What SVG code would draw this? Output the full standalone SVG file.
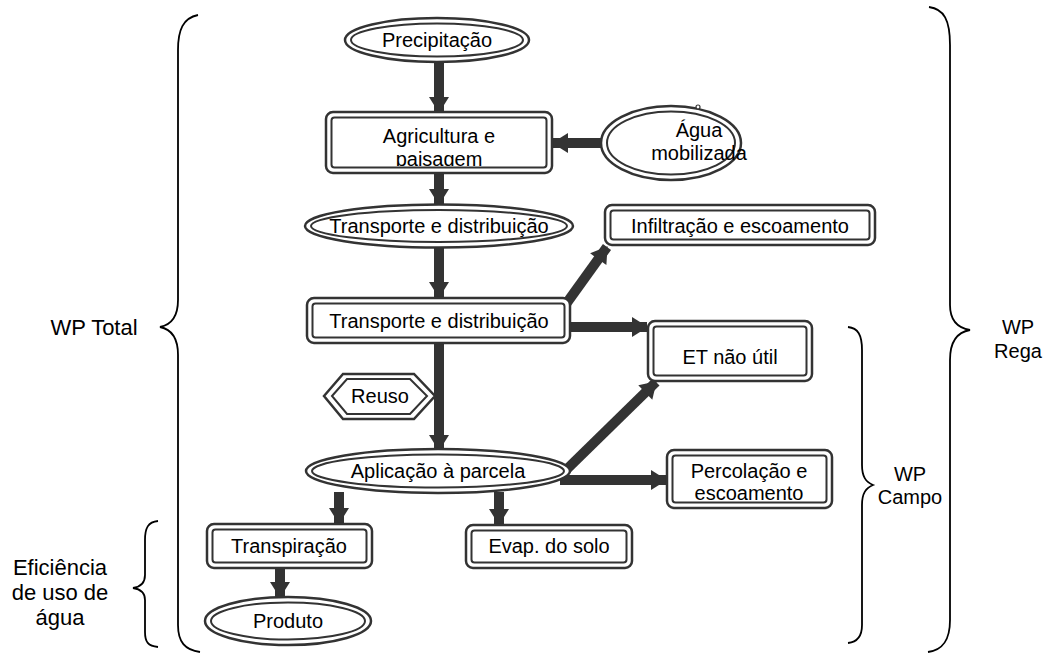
<svg xmlns="http://www.w3.org/2000/svg" width="1050" height="655" viewBox="0 0 1050 655">
<style>
.o{fill:#fff;stroke:#333;stroke-width:2.5}
.i{fill:none;stroke:#333;stroke-width:2}
.t{font-family:"Liberation Sans",Arial,sans-serif;font-size:20px;fill:#000;text-anchor:middle}
.s{font-size:22px}
.a{fill:none;stroke:#333;stroke-width:10;marker-end:url(#ah)}
.b{fill:none;stroke:#000;stroke-width:1.8}
</style>
<defs>
<marker id="ah" markerUnits="userSpaceOnUse" markerWidth="22" markerHeight="22" viewBox="0 0 16 22" refX="15" refY="11" orient="auto">
<path d="M0,1 L16,11 L0,21 Z" fill="#333"/>
</marker>
<clipPath id="cAgri"><rect x="332" y="118" width="214" height="48"/></clipPath>
</defs>
<rect width="1050" height="655" fill="#fff"/>

<g id="connectors">
<path class="a" d="M439,62 V112"/>
<path class="a" d="M439,173 V204"/>
<path class="a" d="M439,248 V297"/>
<path class="a" d="M439,343 V450"/>
<path class="a" d="M602,143 H553"/>
<path class="a" d="M566,304 L607,247"/>
<path class="a" d="M570,327 H647"/>
<path class="a" d="M565,471 L656,382"/>
<path class="a" d="M560,480 H666"/>
<path class="a" d="M339,492 V523"/>
<path class="a" d="M499,492 V524"/>
<path class="a" d="M280,568 V597"/>
</g>

<g id="precipitacao">
<ellipse class="o" cx="437" cy="40" rx="92" ry="22"/>
<ellipse class="i" cx="437" cy="40" rx="86" ry="16.5"/>
<text class="t" x="437" y="47">Precipitação</text>
</g>

<g id="agricultura">
<rect class="o" x="326" y="112" width="226" height="61" rx="7"/>
<rect class="i" x="331.5" y="117.5" width="215" height="50" rx="3"/>
<g clip-path="url(#cAgri)">
<text class="t" x="439" y="143">Agricultura e</text>
<text class="t" x="439" y="165.5">paisagem</text>
</g>
</g>

<g id="agua">
<ellipse class="o" cx="671" cy="143" rx="70" ry="37"/>
<ellipse class="i" cx="671" cy="143" rx="64" ry="31.5"/>
<circle cx="698" cy="107" r="2" fill="#fff" stroke="#333" stroke-width="1.2"/>
<text class="t" x="699" y="137">Água</text>
<text class="t" x="699" y="160">mobilizada</text>
</g>

<g id="transporte1">
<ellipse class="o" cx="439" cy="226" rx="134" ry="21.5"/>
<ellipse class="i" cx="439" cy="226" rx="128" ry="16"/>
<text class="t" x="439" y="233">Transporte e distribuição</text>
</g>

<g id="infiltracao">
<rect class="o" x="605" y="205" width="270" height="40" rx="7"/>
<rect class="i" x="610.5" y="210.5" width="259" height="29" rx="3"/>
<text class="t" x="740" y="233">Infiltração e escoamento</text>
</g>

<g id="transporte2">
<rect class="o" x="307" y="298" width="263" height="45" rx="7"/>
<rect class="i" x="312.5" y="303.5" width="252" height="34" rx="3"/>
<text class="t" x="439" y="328">Transporte e distribuição</text>
</g>

<g id="et">
<rect class="o" x="648" y="321" width="164" height="60" rx="7"/>
<rect class="i" x="653.5" y="326.5" width="153" height="49" rx="3"/>
<text class="t" x="730" y="364">ET não útil</text>
</g>

<g id="reuso">
<polygon class="o" points="324,396 343,374 414,374 435,396 414,419 343,419"/>
<polygon class="i" points="332,396 347,379 410,379 427,396 410,414 347,414"/>
<text class="t" x="380" y="403">Reuso</text>
</g>

<g id="aplicacao">
<ellipse class="o" cx="438" cy="471" rx="132" ry="22"/>
<ellipse class="i" cx="438" cy="471" rx="126" ry="16.5"/>
<text class="t" x="438" y="478">Aplicação à parcela</text>
</g>

<g id="percolacao">
<rect class="o" x="667" y="450" width="165" height="58" rx="7"/>
<rect class="i" x="672.5" y="455.5" width="154" height="47" rx="3"/>
<text class="t" x="749" y="478">Percolação e</text>
<text class="t" x="749" y="500">escoamento</text>
</g>

<g id="transpiracao">
<rect class="o" x="207" y="524" width="165" height="44" rx="7"/>
<rect class="i" x="212.5" y="529.5" width="154" height="33" rx="3"/>
<text class="t" x="289" y="553">Transpiração</text>
</g>

<g id="evap">
<rect class="o" x="466" y="525" width="166" height="43" rx="7"/>
<rect class="i" x="471.5" y="530.5" width="155" height="32" rx="3"/>
<text class="t" x="549" y="553">Evap. do solo</text>
</g>

<g id="produto">
<ellipse class="o" cx="288" cy="621" rx="83" ry="24"/>
<ellipse class="i" cx="288" cy="621" rx="77" ry="18.5"/>
<text class="t" x="288" y="628">Produto</text>
</g>

<g id="wp-total">
<path class="b" d="M198,15 C183,18 178,30 178,50 L178,300 C178,318 170,325 160,327 C170,329 178,336 178,355 L178,625 C178,642 185,650 200,652"/>
<text class="t s" x="94" y="335">WP Total</text>
</g>

<g id="eficiencia">
<path class="b" d="M158,521 C148,522 145,528 145,540 L145,575 C145,583 140,587 133,588 C140,589 145,593 145,600 L145,632 C145,642 148,646 158,647"/>
<text class="t s" x="60" y="575">Eficiência</text>
<text class="t s" x="60" y="600">de uso de</text>
<text class="t s" x="60" y="625">água</text>
</g>

<g id="wp-rega">
<path class="b" d="M929,7 C944,9 950,20 950,45 L950,305 C950,320 958,328 970,330 C958,332 950,340 950,360 L950,620 C950,640 943,650 928,652"/>
<text class="t" x="1018" y="334">WP</text>
<text class="t" x="1018" y="358">Rega</text>
</g>

<g id="wp-campo">
<path class="b" d="M848,327 C858,328 862,335 862,350 L862,465 C862,477 866,482 873,485 C866,488 862,493 862,505 L862,625 C862,636 858,642 848,643"/>
<text class="t" x="910" y="481">WP</text>
<text class="t" x="910" y="504">Campo</text>
</g>
</svg>
